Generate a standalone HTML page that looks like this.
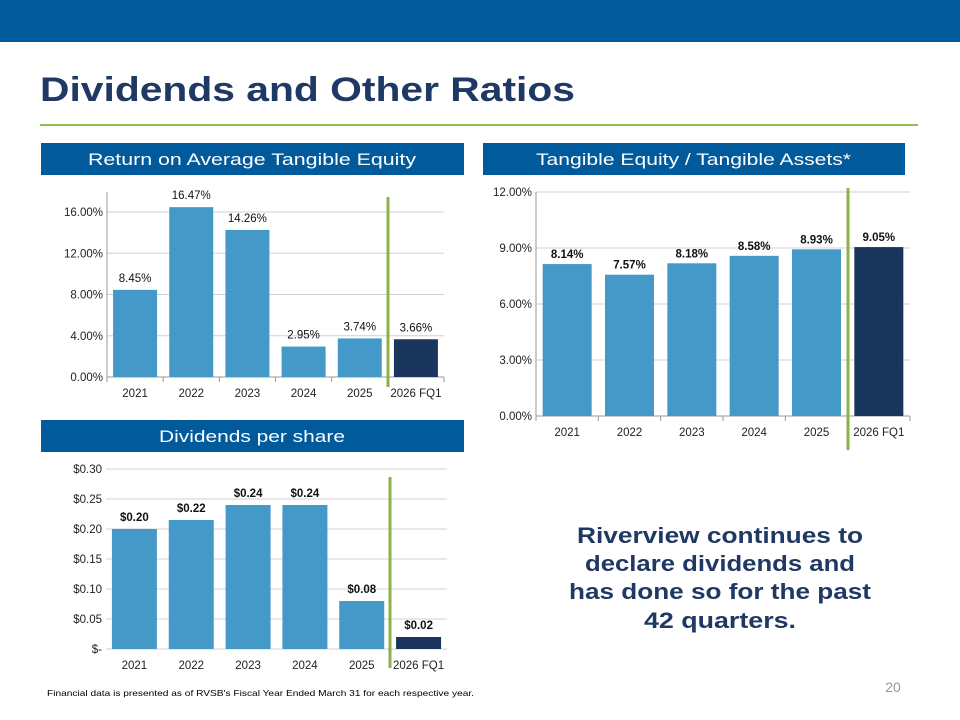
<!DOCTYPE html>
<html><head><meta charset="utf-8">
<style>
body{margin:0;width:960px;height:720px;overflow:hidden;background:#fff;font-family:"Liberation Sans",sans-serif;}
svg{display:block}
</style></head>
<body>
<svg id="s" width="960" height="720" xmlns="http://www.w3.org/2000/svg">
<rect x="0" y="0" width="960" height="42" fill="#005a9c"/>
<text x="40" y="101" font-size="34" font-weight="bold" fill="#1f3864" textLength="535" lengthAdjust="spacingAndGlyphs">Dividends and Other Ratios</text>
<rect x="40" y="124" width="878" height="2" fill="#8dc04f"/>
<rect x="41" y="143" width="423" height="32" fill="#005a9c"/>
<text x="88" y="165" font-size="17" fill="#fff" textLength="328" lengthAdjust="spacingAndGlyphs">Return on Average Tangible Equity</text>
<rect x="483" y="143" width="422" height="32" fill="#005a9c"/>
<text x="536" y="165" font-size="17" fill="#fff" textLength="315" lengthAdjust="spacingAndGlyphs">Tangible Equity / Tangible Assets*</text>
<rect x="41" y="420" width="423" height="32" fill="#005a9c"/>
<text x="159" y="442" font-size="17" fill="#fff" textLength="186" lengthAdjust="spacingAndGlyphs">Dividends per share</text>
<g font-size="22" font-weight="bold" fill="#1f3864" text-anchor="middle">
<text x="720" y="543" textLength="286" lengthAdjust="spacingAndGlyphs">Riverview continues to</text>
<text x="720" y="571" textLength="270" lengthAdjust="spacingAndGlyphs">declare dividends and</text>
<text x="720" y="599" textLength="302" lengthAdjust="spacingAndGlyphs">has done so for the past</text>
<text x="720" y="628" textLength="152" lengthAdjust="spacingAndGlyphs">42 quarters.</text>
</g>
<text x="893" y="692" font-size="14" fill="#999" text-anchor="middle">20</text>
<text x="47" y="696" font-size="8.5" fill="#000" textLength="427" lengthAdjust="spacingAndGlyphs">Financial data is presented as of RVSB's Fiscal Year Ended March 31 for each respective year.</text>
</svg>
<script>
const categories = ["2021","2022","2023","2024","2025","2026 FQ1"];
const roateValues = [8.45,16.47,14.26,2.95,3.74,3.66];
const roateLabels = ["8.45%","16.47%","14.26%","2.95%","3.74%","3.66%"];
const roateTicks = [0,4,8,12,16];
const tceValues = [8.14,7.57,8.18,8.58,8.93,9.05];
const tceLabels = ["8.14%","7.57%","8.18%","8.58%","8.93%","9.05%"];
const tceTicks = [0,3,6,9,12];
const dpsValues = [0.20,0.215,0.24,0.24,0.08,0.02];
const dpsLabels = ["$0.20","$0.22","$0.24","$0.24","$0.08","$0.02"];
const dpsTicks = [0,0.05,0.10,0.15,0.20,0.25,0.30];
const dpsTickLabels = ["$-","$0.05","$0.10","$0.15","$0.20","$0.25","$0.30"];

const NS="http://www.w3.org/2000/svg";
const svg=document.getElementById('s');
function mk(tag,attrs,parent){const e=document.createElementNS(NS,tag);for(const k in attrs)e.setAttribute(k,attrs[k]);(parent||svg).appendChild(e);return e;}

function chart(o){
  const g=mk('g',{});
  
  
  const y=v=>o.y0-(v-o.vmin)/(o.vmax-o.vmin)*(o.y0-o.y1);
  const cw=(o.x1-o.x0)/categories.length;
  const x=i=>o.x0+i*cw;
  o.ticks.forEach((t,i)=>{
    const yy=y(t);
    const l=mk('line',{x1:o.x0,x2:o.x1,y1:yy,y2:yy,stroke:i==0&&o.axis?'#999':'#d0d0d0','stroke-width':1},g);
    
    
    const tx=mk('text',{x:o.x0-4,y:yy+4,'font-size':11.5,fill:'#222','text-anchor':'end'},g);
    tx.textContent=o.tickLabels[i];
    
    
  });
  if(o.axis){
    const a=mk('line',{x1:o.x0,x2:o.x0,y1:o.y0,y2:o.axisTop,stroke:'#999'},g);
    
    
    for(let i=0;i<=categories.length;i++){
      const t=mk('line',{x1:x(i),x2:x(i),y1:o.y0,y2:o.y0+5,stroke:'#999'},g);
      
      
    }
  }
  categories.forEach((c,i)=>{
    const v=o.values[i];
    const bx=x(i)+(cw-o.bw)/2;
    const r=mk('rect',{x:bx,y:y(v),width:o.bw,height:y(o.vmin)-y(v),fill:i==5?'#1b365d':'#4599c9'},g);
    
    
    const lt=mk('text',{x:x(i)+cw/2,y:y(v)-o.lblOff,'font-size':11.5,fill:'#111','text-anchor':'middle','font-weight':o.bold?'bold':'normal'},g);
    lt.textContent=o.labels[i];
    
    
    const ct=mk('text',{x:x(i)+cw/2,y:o.catY,'font-size':11.5,fill:'#222','text-anchor':'middle'},g);
    ct.textContent=c;
    
    
  });
  const gl=mk('line',{x1:o.gx,x2:o.gx,y1:o.gy0,y2:o.gy1,stroke:'#8db04a','stroke-width':3},g);
  
  
}
chart({name:'roate-chart',x0:107,x1:444,y0:377,y1:212,vmin:0,vmax:16,ticks:roateTicks,tickLabels:roateTicks.map(t=>t.toFixed(2)+'%'),values:roateValues,labels:roateLabels,bw:44,lblOff:8,catY:397,axis:true,axisTop:192,bold:false,gx:388,gy0:197,gy1:387});
chart({name:'tce-chart',x0:536,x1:910,y0:416,y1:192,vmin:0,vmax:12,ticks:tceTicks,tickLabels:tceTicks.map(t=>t.toFixed(2)+'%'),values:tceValues,labels:tceLabels,bw:49,lblOff:6,catY:436,axis:true,axisTop:192,bold:true,gx:848,gy0:188,gy1:450});
chart({name:'dps-chart',x0:106,x1:447,y0:649,y1:469,vmin:0,vmax:0.30,ticks:dpsTicks,tickLabels:dpsTickLabels,values:dpsValues,labels:dpsLabels,bw:45,lblOff:8,catY:669,axis:false,bold:true,gx:390,gy0:477,gy1:668});
</script>
</body></html>
